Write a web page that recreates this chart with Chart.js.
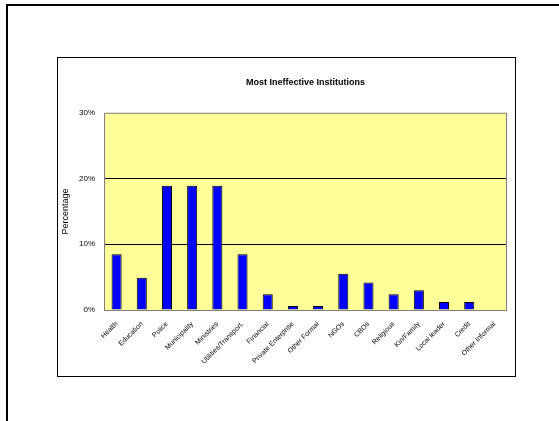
<!DOCTYPE html>
<html>
<head>
<meta charset="utf-8">
<script src="https://cdn.jsdelivr.net/npm/chart.js@4"></script>
<style>
  html, body { margin: 0; padding: 0; background: #fff; }
  body { width: 559px; height: 421px; position: relative; overflow: hidden; }
  #outer {
    position: absolute; left: 6px; top: 4px; right: -10px; bottom: -10px;
    border-left: 2px solid #000; border-top: 2px solid #000;
  }
  #frame {
    position: absolute; left: 57px; top: 57px; width: 457px; height: 318px;
    border: 1px solid #000; background: #fff;
  }
  #chart { display: block; }
</style>
</head>
<body>
<div id="outer"></div>
<div id="frame"><canvas id="chart" width="457" height="318"></canvas></div>
<script>
const categories = [
  "Health", "Education", "Police", "Municipality", "Ministries",
  "Utilities/Transport.", "Financial", "Private Enterprise", "Other Formal",
  "NGOs", "CBOs", "Religious", "Kin/Family", "Local leader", "Credit",
  "Other Informal"
];
const percentages = [
  8.5, 4.9, 18.9, 18.9, 18.9, 8.5, 2.4, 0.6, 0.6, 5.5, 4.2, 2.4, 3.0, 1.2, 1.2, 0
];
const yTicks = [0, 10, 20, 30];

const fontFamily = "Arial, 'Liberation Sans', sans-serif";

const plotBackground = {
  id: "plotBackground",
  beforeDraw(chart) {
    const { ctx, chartArea } = chart;
    ctx.save();
    ctx.fillStyle = "#FFFF99";
    ctx.fillRect(chartArea.left, chartArea.top, chartArea.width, chartArea.height);
    ctx.restore();
  },
  afterDatasetsDraw(chart) {
    const { ctx, chartArea } = chart;
    ctx.save();
    ctx.strokeStyle = "#808080";
    ctx.lineWidth = 1;
    ctx.strokeRect(chartArea.left + 0.5, chartArea.top + 0.5, chartArea.width - 1, chartArea.height);
    ctx.restore();
  }
};

new Chart(document.getElementById("chart"), {
  type: "bar",
  data: {
    labels: categories,
    datasets: [
      {
        data: percentages,
        backgroundColor: "#0000FF",
        borderColor: "#000000",
        borderWidth: 1,
        barPercentage: 0.4,
        categoryPercentage: 1,
      },
    ],
  },
  options: {
    responsive: false,
    animation: false,
    layout: { padding: { left: 0, right: 8, top: 0, bottom: 0 } },
    plugins: {
      legend: { display: false },
      tooltip: { enabled: false },
      title: {
        display: true,
        text: "Most Ineffective Institutions",
        fullSize: false,
        color: "#000",
        font: { family: fontFamily, size: 9, weight: "bold" },
        padding: { top: 19, bottom: 25 },
      },
    },
    scales: {
      x: {
        grid: { display: false, drawTicks: false },
        border: { display: false },
        ticks: {
          color: "#000",
          font: { family: fontFamily, size: 7 },
          maxRotation: 45,
          minRotation: 45,
          autoSkip: false,
          padding: 10,
        },
        afterFit(scale) {
          scale.height = 66;
        },
      },
      y: {
        min: 0,
        max: 30,
        afterBuildTicks(scale) {
          scale.ticks = yTicks.map((v) => ({ value: v }));
        },
        grid: {
          color: (c) => (c.tick.value === 0 || c.tick.value === 30 ? "rgba(0,0,0,0)" : "#000"),
          drawTicks: false,
          lineWidth: 1,
        },
        border: { display: false },
        ticks: {
          color: "#000",
          font: { family: fontFamily, size: 8 },
          padding: 9,
          callback: (v) => v + "%",
        },
        title: {
          display: true,
          text: "Percentage",
          color: "#000",
          font: { family: fontFamily, size: 9 },
          padding: { top: 2, bottom: 0 },
        },
        afterFit(scale) {
          scale.width = 46;
        },
      },
    },
  },
  plugins: [plotBackground],
});
</script>
</body>
</html>
